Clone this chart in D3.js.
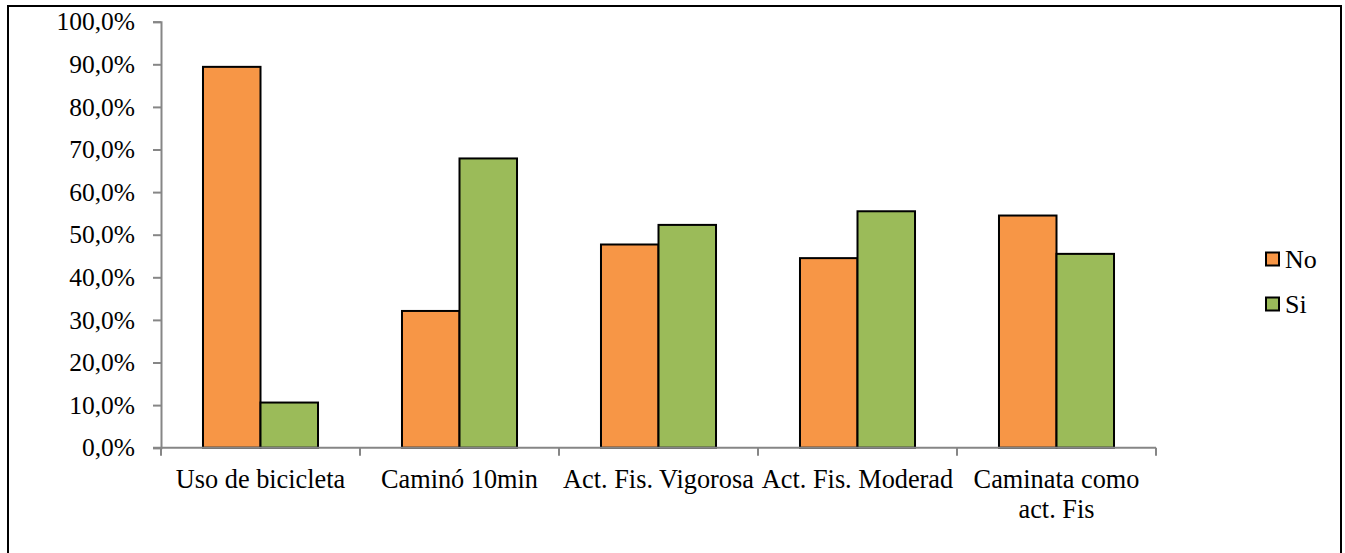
<!DOCTYPE html>
<html>
<head>
<meta charset="utf-8">
<script src="https://cdn.jsdelivr.net/npm/d3@7"></script>
<style>
  html, body { margin: 0; padding: 0; background: #fff; }
  svg { display: block; }
  svg text { font-family: "Liberation Serif", "Times New Roman", Times, serif; fill: #000; }
</style>
</head>
<body>
<svg id="chart" width="1345" height="553"></svg>
<script>
// Categories and series values (percent)
const categories = [
  ["Uso de bicicleta"],
  ["Caminó 10min"],
  ["Act. Fis. Vigorosa"],
  ["Act. Fis. Moderad"],
  ["Caminata como", "act. Fis"]
];
const seriesNames = ["No", "Si"];
const noValues = [89.4, 32.1, 47.7, 44.5, 54.5];
const siValues = [10.6, 67.9, 52.3, 55.5, 45.5];
const yTicks = [0, 10, 20, 30, 40, 50, 60, 70, 80, 90, 100];
const colors = ["#F79646", "#9BBB59"];

const svg = d3.select("#chart");

// Outer chart frame
svg.append("rect")
  .attr("x", 8).attr("y", 6)
  .attr("width", 1333).attr("height", 560)
  .attr("fill", "none").attr("stroke", "#000").attr("stroke-width", 2);

const plot = { left: 161, right: 1156, top: 21.7, bottom: 447.7 };

const x = d3.scaleBand()
  .domain(d3.range(categories.length))
  .range([plot.left, plot.right])
  .paddingInner(0).paddingOuter(0);

// two bars per category with a 73% gap split on both sides
const xSub = d3.scaleBand()
  .domain(seriesNames)
  .range([0, x.bandwidth()])
  .paddingInner(0)
  .paddingOuter(0.73);

const y = d3.scaleLinear().domain([0, 100]).range([plot.bottom, plot.top]);

const fmt = v => d3.format(".1f")(v).replace(".", ",") + "%";

// Y axis
const yAxis = svg.append("g")
  .attr("transform", `translate(${plot.left},0)`)
  .call(d3.axisLeft(y).tickValues(yTicks).tickFormat(fmt).tickSizeOuter(0).tickSize(8).tickPadding(18));
yAxis.attr("font-family", null).attr("font-size", null);
yAxis.select(".domain").attr("stroke", "#868686").attr("stroke-width", 2);
yAxis.selectAll(".tick line").attr("stroke", "#868686").attr("stroke-width", 2);
yAxis.selectAll(".tick text")
  .style("font-size", "25.5px").attr("fill", "#000");

// Bars
const data = categories.map((c, i) => ({ i, vals: [noValues[i], siValues[i]] }));
const groups = svg.append("g").selectAll("g")
  .data(data).join("g")
  .attr("transform", d => `translate(${x(d.i)},0)`);
groups.selectAll("rect")
  .data(d => d.vals.map((v, k) => ({ v, k })))
  .join("rect")
  .attr("x", d => xSub(seriesNames[d.k]))
  .attr("y", d => y(d.v))
  .attr("width", xSub.bandwidth())
  .attr("height", d => y(0) - y(d.v))
  .attr("fill", d => colors[d.k])
  .attr("stroke", "#000").attr("stroke-width", 2);

// X axis
const xAxis = svg.append("g")
  .attr("transform", `translate(0,${plot.bottom})`);
xAxis.append("line")
  .attr("x1", plot.left - 8).attr("x2", plot.right)
  .attr("stroke", "#868686").attr("stroke-width", 2);
const xTickPos = d3.range(categories.length + 1).map(i => i < categories.length ? x(i) : x(i - 1) + x.bandwidth());
xAxis.selectAll("line.tick")
  .data(xTickPos).join("line").attr("class", "tick")
  .attr("x1", d => d).attr("x2", d => d)
  .attr("y1", 0).attr("y2", 8)
  .attr("stroke", "#868686").attr("stroke-width", 2);

const labels = xAxis.selectAll("text.cat")
  .data(categories).join("text").attr("class", "cat")
  .attr("text-anchor", "middle")
  .style("font-size", "26.3px")
  .attr("transform", (d, i) => `translate(${x(i) + x.bandwidth() / 2},40)`);
labels.selectAll("tspan")
  .data(d => d).join("tspan")
  .attr("x", 0)
  .attr("dy", (d, k) => k === 0 ? 0 : 30)
  .text(d => d);

// Legend
const legend = svg.append("g").attr("transform", "translate(1266,0)");
const legendY = [259, 304];
seriesNames.forEach((name, k) => {
  legend.append("rect")
    .attr("x", 0).attr("y", legendY[k] - 6.5)
    .attr("width", 13).attr("height", 13)
    .attr("fill", colors[k]).attr("stroke", "#000").attr("stroke-width", 2);
  legend.append("text")
    .attr("x", 19).attr("y", legendY[k])
    .attr("dy", "0.35em")
    .style("font-size", "26px")
    .text(name);
});
</script>
</body>
</html>
